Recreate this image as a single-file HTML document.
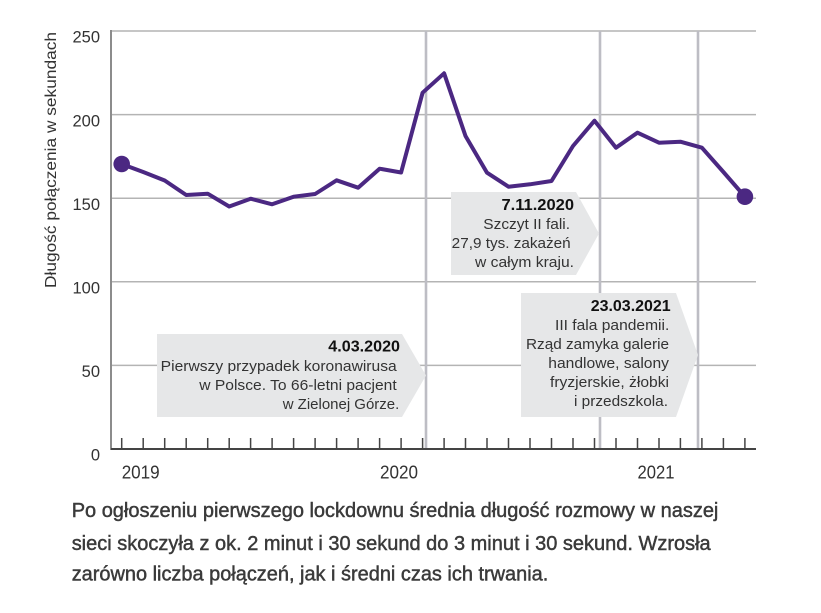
<!DOCTYPE html>
<html><head><meta charset="utf-8"><style>
html,body{margin:0;padding:0;background:#fff;}
svg{display:block;}
text{font-family:"Liberation Sans",sans-serif;}
</style></head><body>
<svg width="821" height="613" viewBox="0 0 821 613" xmlns="http://www.w3.org/2000/svg">
<rect width="821" height="613" fill="#fff"/>
<!-- gridlines -->
<g stroke="#b4b4b4" stroke-width="1.5">
<line x1="111" y1="31" x2="756" y2="31"/>
<line x1="111" y1="114.6" x2="756" y2="114.6"/>
<line x1="111" y1="198.2" x2="756" y2="198.2"/>
<line x1="111" y1="281.8" x2="756" y2="281.8"/>
<line x1="111" y1="365.4" x2="756" y2="365.4"/>
</g>
<!-- event lines -->
<g stroke="#bdbdc4" stroke-width="2.6">
<line x1="426" y1="31" x2="426" y2="449"/>
<line x1="600" y1="31" x2="600" y2="449"/>
<line x1="698" y1="31" x2="698" y2="449"/>
</g>
<!-- y axis -->
<line x1="111" y1="30" x2="111" y2="450" stroke="#8c8c8c" stroke-width="2"/>
<!-- boxes -->
<g fill="#e6e7e8">
<polygon points="157,334 402,334 426,375.5 402,417 157,417"/>
<polygon points="451,192 576,192 599,233.5 576,275 451,275"/>
<polygon points="521,293 676,293 698,355 676,417 521,417"/>
</g>
<!-- x axis -->
<line x1="111" y1="449" x2="756" y2="449" stroke="#444" stroke-width="2"/>
<g stroke="#444" stroke-width="1.5">
<line x1="121.7" y1="438" x2="121.7" y2="449"/><line x1="143.2" y1="438" x2="143.2" y2="449"/><line x1="164.7" y1="438" x2="164.7" y2="449"/><line x1="186.2" y1="438" x2="186.2" y2="449"/><line x1="207.7" y1="438" x2="207.7" y2="449"/><line x1="229.2" y1="438" x2="229.2" y2="449"/><line x1="250.6" y1="438" x2="250.6" y2="449"/><line x1="272.1" y1="438" x2="272.1" y2="449"/><line x1="293.6" y1="438" x2="293.6" y2="449"/><line x1="315.1" y1="438" x2="315.1" y2="449"/><line x1="336.6" y1="438" x2="336.6" y2="449"/><line x1="358.1" y1="438" x2="358.1" y2="449"/><line x1="379.6" y1="438" x2="379.6" y2="449"/><line x1="401.1" y1="438" x2="401.1" y2="449"/><line x1="422.6" y1="438" x2="422.6" y2="449"/><line x1="444.1" y1="438" x2="444.1" y2="449"/><line x1="465.5" y1="438" x2="465.5" y2="449"/><line x1="487" y1="438" x2="487" y2="449"/><line x1="508.5" y1="438" x2="508.5" y2="449"/><line x1="530" y1="438" x2="530" y2="449"/><line x1="551.5" y1="438" x2="551.5" y2="449"/><line x1="573" y1="438" x2="573" y2="449"/><line x1="594.5" y1="438" x2="594.5" y2="449"/><line x1="616" y1="438" x2="616" y2="449"/><line x1="637.5" y1="438" x2="637.5" y2="449"/><line x1="659" y1="438" x2="659" y2="449"/><line x1="680.4" y1="438" x2="680.4" y2="449"/><line x1="701.9" y1="438" x2="701.9" y2="449"/><line x1="723.4" y1="438" x2="723.4" y2="449"/><line x1="744.9" y1="438" x2="744.9" y2="449"/>
</g>
<!-- y labels -->
<g fill="#333" font-size="16.5" text-anchor="end">
<text x="100" y="42.7">250</text>
<text x="100" y="126.3">200</text>
<text x="100" y="209.9">150</text>
<text x="100" y="293.5">100</text>
<text x="100" y="377.1">50</text>
<text x="100" y="460.7">0</text>
</g>
<text transform="translate(56,160) rotate(-90)" text-anchor="middle" font-size="16" fill="#333" textLength="256" lengthAdjust="spacingAndGlyphs">Długość połączenia w sekundach</text>
<!-- x labels -->
<g fill="#333" font-size="18">
<text x="121.7" y="478.3" textLength="38" lengthAdjust="spacingAndGlyphs">2019</text>
<text x="380" y="478.3" textLength="38" lengthAdjust="spacingAndGlyphs">2020</text>
<text x="637.5" y="478.3" textLength="37" lengthAdjust="spacingAndGlyphs">2021</text>
</g>
<!-- data line -->
<polyline fill="none" stroke="#4b2882" stroke-width="4" stroke-linejoin="round" points="121.7,164 143.2,172 164.7,180.5 186.2,195 207.7,193.7 229.2,206.5 250.6,198.7 272.1,204.3 293.6,196.7 315.1,194 336.6,180.3 358.1,187.7 379.6,168.7 401.1,172.5 422.6,92.7 444.1,73.3 465.5,136 487,172.7 508.5,186.7 530,184.3 551.5,181 573,146 594.5,120.7 616,147.7 637.5,132.7 659,142.7 680.4,141.7 701.9,147.7 723.4,172 744.9,196.7"/>
<circle cx="121.7" cy="164" r="8.3" fill="#4b2882"/>
<circle cx="744.9" cy="196.7" r="8.3" fill="#4b2882"/>
<!-- box 1 text -->
<g text-anchor="end">
<text x="400" y="351.7" font-size="16" font-weight="bold" fill="#111" textLength="71.7" lengthAdjust="spacingAndGlyphs">4.03.2020</text>
<g font-size="15" fill="#333">
<text x="396.7" y="371" textLength="236" lengthAdjust="spacingAndGlyphs">Pierwszy przypadek koronawirusa</text>
<text x="396.7" y="390" textLength="197.4" lengthAdjust="spacingAndGlyphs">w Polsce. To 66-letni pacjent</text>
<text x="399.3" y="409" textLength="116.6" lengthAdjust="spacingAndGlyphs">w Zielonej Górze.</text>
</g>
<!-- box 2 text -->
<text x="574" y="210" font-size="16" font-weight="bold" fill="#111" textLength="72.5" lengthAdjust="spacingAndGlyphs">7.11.2020</text>
<g font-size="15" fill="#333">
<text x="570" y="229" textLength="86.7" lengthAdjust="spacingAndGlyphs">Szczyt II fali.</text>
<text x="570.7" y="248" textLength="119" lengthAdjust="spacingAndGlyphs">27,9 tys. zakażeń</text>
<text x="574" y="267" textLength="99" lengthAdjust="spacingAndGlyphs">w całym kraju.</text>
</g>
<!-- box 3 text -->
<text x="670.7" y="311" font-size="16" font-weight="bold" fill="#111" textLength="80" lengthAdjust="spacingAndGlyphs">23.03.2021</text>
<g font-size="15" fill="#333">
<text x="669.3" y="330" textLength="114.3" lengthAdjust="spacingAndGlyphs">III fala pandemii.</text>
<text x="669" y="349" textLength="143" lengthAdjust="spacingAndGlyphs">Rząd zamyka galerie</text>
<text x="669" y="368" textLength="120.7" lengthAdjust="spacingAndGlyphs">handlowe, salony</text>
<text x="669" y="387" textLength="119" lengthAdjust="spacingAndGlyphs">fryzjerskie, żłobki</text>
<text x="668" y="406" textLength="94" lengthAdjust="spacingAndGlyphs">i przedszkola.</text>
</g>
</g>
<!-- caption -->
<g font-size="20" fill="#3a3a3a" stroke="#3a3a3a" stroke-width="0.45">
<text x="71.7" y="517" textLength="646.7" lengthAdjust="spacingAndGlyphs">Po ogłoszeniu pierwszego lockdownu średnia długość rozmowy w naszej</text>
<text x="71.7" y="550" textLength="639" lengthAdjust="spacingAndGlyphs">sieci skoczyła z ok. 2 minut i 30 sekund do 3 minut i 30 sekund. Wzrosła</text>
<text x="71.7" y="580.7" textLength="476.6" lengthAdjust="spacingAndGlyphs">zarówno liczba połączeń, jak i średni czas ich trwania.</text>
</g>
</svg>
</body></html>
